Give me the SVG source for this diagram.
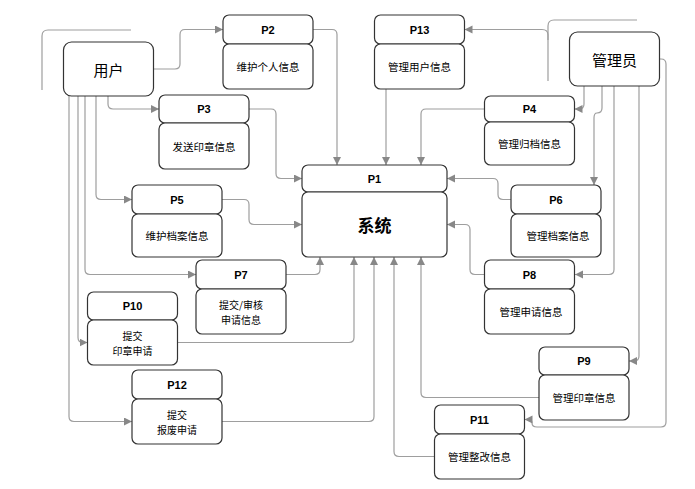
<svg xmlns="http://www.w3.org/2000/svg" width="695" height="489" viewBox="0 0 695 489">
<style>
.b{fill:#fff;stroke:#333;stroke-width:1.2}
.pl{font-family:"Liberation Sans","Noto Sans CJK SC",sans-serif;font-weight:bold;font-size:11px;fill:#000;text-anchor:middle;dominant-baseline:central}
.t{font-family:"Noto Sans CJK SC","Noto Sans",sans-serif;font-size:10.5px;fill:#000;text-anchor:middle;dominant-baseline:central}
.t2{font-family:"Noto Sans CJK SC","Noto Sans",sans-serif;font-size:10px;fill:#000;text-anchor:middle;dominant-baseline:central}
.big{font-family:"Noto Sans CJK SC","Noto Sans",sans-serif;font-size:15px;fill:#000;text-anchor:middle;dominant-baseline:central}
.c{fill:none;stroke:#9e9e9e;stroke-width:1.2}
</style>
<defs>
<marker id="a" markerUnits="userSpaceOnUse" markerWidth="9" markerHeight="9" refX="8" refY="4" orient="auto">
<path d="M0,0 L8,4 L0,8 z" fill="#888"/>
</marker>
</defs>
<rect width="695" height="489" fill="#fff"/>
<g id="connectors">
<path class="c" d="M42,90 V36 Q42,30 48,30 H131"/>
<path class="c" d="M548,81 V26 Q548,20 554,20 H637"/>
<path class="c" d="M548,40 V35 Q548,29.5 542,29.5 H464.5" marker-end="url(#a)"/>
<path class="c" d="M153.5,69 H175 Q180,69 180,64 V34.5 Q180,29.5 185,29.5 H223" marker-end="url(#a)"/>
<path class="c" d="M313,29.5 H332 Q337,29.5 337,34.5 V165" marker-end="url(#a)"/>
<path class="c" d="M386,89 V165" marker-end="url(#a)"/>
<path class="c" d="M108,96 V104 Q108,109 113,109 H159" marker-end="url(#a)"/>
<path class="c" d="M249,109 H271 Q276,109 276,114 V173.5 Q276,178.5 281,178.5 H302" marker-end="url(#a)"/>
<path class="c" d="M96,96 V194.5 Q96,199.5 101,199.5 H132" marker-end="url(#a)"/>
<path class="c" d="M222,199.5 H244 Q249,199.5 249,204.5 V219.5 Q249,224.5 254,224.5 H302" marker-end="url(#a)"/>
<path class="c" d="M85,96 V269.5 Q85,274.5 90,274.5 H196" marker-end="url(#a)"/>
<path class="c" d="M286,274.5 H315 Q320,274.5 320,269.5 V257" marker-end="url(#a)"/>
<path class="c" d="M78,96 V337.5 Q78,342.5 83,342.5 H87.5" marker-end="url(#a)"/>
<path class="c" d="M177.5,342.5 H349 Q354,342.5 354,337.5 V257" marker-end="url(#a)"/>
<path class="c" d="M69,96 V416.5 Q69,421.5 74,421.5 H132" marker-end="url(#a)"/>
<path class="c" d="M222,421.5 H369 Q374,421.5 374,416.5 V257" marker-end="url(#a)"/>
<path class="c" d="M434.5,456.5 H399 Q394,456.5 394,451.5 V257" marker-end="url(#a)"/>
<path class="c" d="M539,397.5 H426 Q421,397.5 421,392.5 V257" marker-end="url(#a)"/>
<path class="c" d="M484.5,109 H426 Q421,109 421,114 V165" marker-end="url(#a)"/>
<path class="c" d="M511,199.5 H503 Q498,199.5 498,194.5 V183.5 Q498,178.5 493,178.5 H447" marker-end="url(#a)"/>
<path class="c" d="M484.5,274.5 H475 Q470,274.5 470,269.5 V229.5 Q470,224.5 465,224.5 H447" marker-end="url(#a)"/>
<path class="c" d="M584,86 V104 Q584,109 579,109 H574.5" marker-end="url(#a)"/>
<path class="c" d="M602,86 V108 Q602,113 597,113 Q594,113 594,118 V185" marker-end="url(#a)"/>
<path class="c" d="M614,86 V269.5 Q614,274.5 609,274.5 H575" marker-end="url(#a)"/>
<path class="c" d="M639,86 V356 Q639,361 634,361 H629" marker-end="url(#a)"/>
<path class="c" d="M659.5,59 H661 Q666,59 666,64 V422 Q666,427 661,427 H537 Q532,427 532,423 Q532,419.5 529,419.5 H524.5" marker-end="url(#a)"/>
</g>
<g id="user"><rect class="b" x="63.5" y="42" width="90" height="54" rx="8"/><text class="big" x="108.5" y="69">用户</text></g>
<g id="admin"><rect class="b" x="569.5" y="32" width="90" height="54" rx="8"/><text class="big" x="614.5" y="59">管理员</text></g>
<g id="P1"><rect class="b" x="302" y="165" width="145" height="27" rx="6"/><text class="pl" x="374.5" y="178.5">P1</text><rect class="b" x="302" y="192" width="145" height="65" rx="6"/><text class="big" style="font-weight:bold;font-size:17px" x="374.5" y="224.5">系统</text></g>
<g id="P2"><rect class="b" x="223" y="15" width="90" height="29" rx="6"/><text class="pl" x="268" y="29.5">P2</text><rect class="b" x="223" y="44" width="90" height="45" rx="6"/><text class="t" x="268" y="66.5">维护个人信息</text></g>
<g id="P13"><rect class="b" x="374.5" y="15" width="90" height="29" rx="6"/><text class="pl" x="419.5" y="29.5">P13</text><rect class="b" x="374.5" y="44" width="90" height="45" rx="6"/><text class="t" x="419.5" y="66.5">管理用户信息</text></g>
<g id="P3"><rect class="b" x="159" y="95" width="90" height="28" rx="6"/><text class="pl" x="204" y="109">P3</text><rect class="b" x="159" y="123" width="90" height="46" rx="6"/><text class="t" x="204" y="146">发送印章信息</text></g>
<g id="P4"><rect class="b" x="484.5" y="96" width="90" height="26" rx="6"/><text class="pl" x="529.5" y="109">P4</text><rect class="b" x="484.5" y="122" width="90" height="43" rx="6"/><text class="t" x="529.5" y="143.5">管理归档信息</text></g>
<g id="P5"><rect class="b" x="132" y="185" width="90" height="29" rx="6"/><text class="pl" x="177" y="199.5">P5</text><rect class="b" x="132" y="214" width="90" height="43" rx="6"/><text class="t" x="177" y="235.5">维护档案信息</text></g>
<g id="P6"><rect class="b" x="511" y="185" width="90" height="29" rx="6"/><text class="pl" x="556" y="199.5">P6</text><rect class="b" x="511" y="214" width="90" height="43" rx="6"/><text class="t" x="558" y="235.5">管理档案信息</text></g>
<g id="P7"><rect class="b" x="196" y="260" width="90" height="29" rx="6"/><text class="pl" x="241" y="274.5">P7</text><rect class="b" x="196" y="289" width="90" height="45" rx="6"/><text class="t2" x="241" y="304.25">提交/审核<tspan x="241" dy="14.5">申请信息</tspan></text></g>
<g id="P8"><rect class="b" x="484.5" y="260" width="90" height="29" rx="6"/><text class="pl" x="529.5" y="274.5">P8</text><rect class="b" x="484.5" y="289" width="90" height="45" rx="6"/><text class="t" x="531" y="311.5">管理申请信息</text></g>
<g id="P10"><rect class="b" x="87.5" y="292" width="90" height="28" rx="6"/><text class="pl" x="132.5" y="306">P10</text><rect class="b" x="87.5" y="320" width="90" height="45" rx="6"/><text class="t2" x="132.5" y="335.25">提交<tspan x="132.5" dy="14.5">印章申请</tspan></text></g>
<g id="P9"><rect class="b" x="539" y="347" width="90" height="28" rx="6"/><text class="pl" x="584" y="361">P9</text><rect class="b" x="539" y="375" width="90" height="45" rx="6"/><text class="t" x="584" y="397.5">管理印章信息</text></g>
<g id="P12"><rect class="b" x="132" y="370" width="90" height="29" rx="6"/><text class="pl" x="177" y="384.5">P12</text><rect class="b" x="132" y="399" width="90" height="45" rx="6"/><text class="t2" x="177" y="414.25">提交<tspan x="177" dy="14.5">报废申请</tspan></text></g>
<g id="P11"><rect class="b" x="434.5" y="405" width="90" height="29" rx="6"/><text class="pl" x="479.5" y="419.5">P11</text><rect class="b" x="434.5" y="434" width="90" height="45" rx="6"/><text class="t" x="479.5" y="456.5">管理整改信息</text></g>
</svg>
